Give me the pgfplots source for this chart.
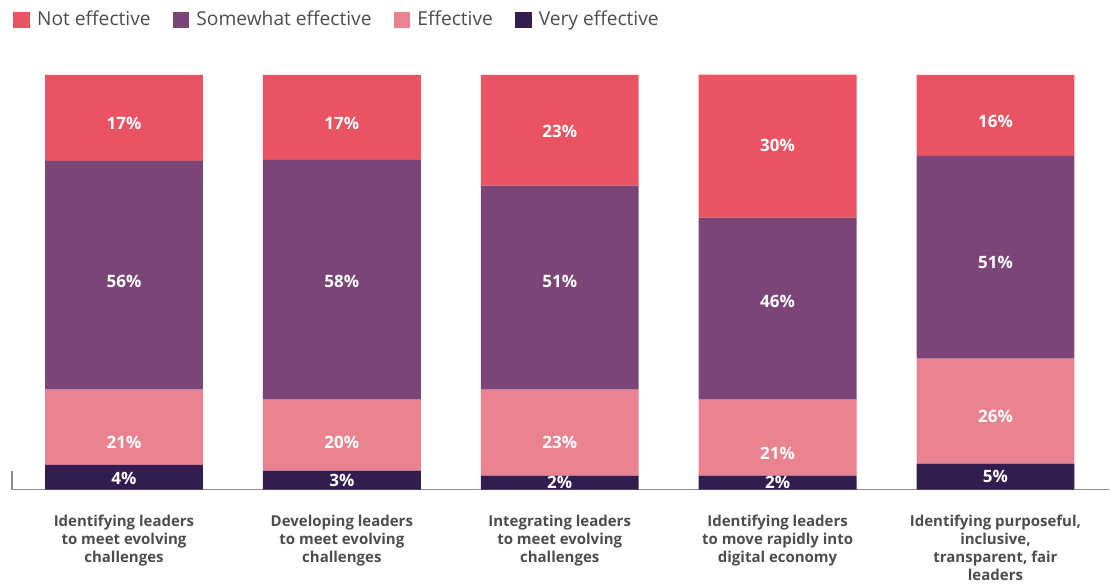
\documentclass[border=0pt]{standalone}
\usepackage{pgfplots}
\usepackage{pgfplotstable}
\pgfplotsset{compat=1.18}
\usepackage{fontspec}
\setmainfont{Open Sans}

\definecolor{cNot}{HTML}{E95362}
\definecolor{cSome}{HTML}{7B4578}
\definecolor{cEff}{HTML}{EA828F}
\definecolor{cVery}{HTML}{331C4F}
\definecolor{txtgrey}{HTML}{4D4D4D}
\definecolor{axgrey}{HTML}{8C8C8C}

% drawn shares of each bar (bottom to top)
\pgfplotstableread{
x y
0 6.0
1 4.6
2 3.4
3 3.4
4 6.3
}\veryeff
\pgfplotstableread{
x y
0 18.1
1 17.1
2 20.7
3 18.3
4 25.3
}\effective
\pgfplotstableread{
x y
0 55.2
1 57.8
2 49.2
3 43.9
4 48.9
}\somewhat
\pgfplotstableread{
x y
0 20.7
1 20.5
2 26.7
3 34.5
4 19.5
}\noteff
% printed labels and where they sit
\pgfplotstableread{
x y lab
0 2.65 4
1 2.17 3
2 1.69 2
3 1.69 2
4 3.13 5
0 11.3 21
1 11.3 20
2 11.3 23
3 8.7 21
4 17.6 26
0 50.1 56
1 50.1 58
2 50.1 51
3 45.3 46
4 54.7 51
0 88.4 17
1 88.4 17
2 86.5 23
3 83.1 30
4 88.7 16
}\labels

\pgfplotsset{common/.style={
    x=109pt, y=2.075pt,
    xmin=-0.514, xmax=4.523,
    ymin=0, ymax=100,
    clip=false}}

\begin{document}
\begin{tikzpicture}
\begin{axis}[
    common,
    ybar stacked,
    bar width=79pt,
    axis line style={draw=none},
    ytick=\empty,
    xtick={0,1,2,3,4},
    major tick length=0pt,
    xticklabels={
        {Identifying leaders\\to meet evolving\\challenges},
        {Developing leaders\\to meet evolving\\challenges},
        {Integrating leaders\\to meet evolving\\challenges},
        {Identifying leaders\\to move rapidly into\\digital economy},
        {Identifying purposeful,\\inclusive,\\transparent, fair\\leaders}},
    xticklabel style={align=center, font=\bfseries\fontsize{7.5}{9}\selectfont,
        text=txtgrey, yshift=-9pt},
    reverse legend,
    legend columns=4,
    legend image code/.code={\fill[#1] (0pt,-4.2pt) rectangle (8.4pt,4.2pt);},
    legend style={at={(0,1)}, anchor=west, yshift=27.5pt, xshift=0.5pt,
        draw=none, inner xsep=0pt, font=\fontsize{9.6}{11}\selectfont,
        text=txtgrey,
        /tikz/every odd column/.append style={column sep=1.5pt},
        /tikz/every even column/.append style={column sep=9pt}},
]
\addplot[fill=cVery, draw=none] table[x=x, y=y] {\veryeff};
\addplot[fill=cEff, draw=none] table[x=x, y=y] {\effective};
\addplot[fill=cSome, draw=none] table[x=x, y=y] {\somewhat};
\addplot[fill=cNot, draw=none] table[x=x, y=y] {\noteff};
\legend{Very effective, Effective, Somewhat effective, Not effective}
\draw[axgrey, line width=0.6pt] (rel axis cs:0,0) -- (rel axis cs:1,0);
\draw[axgrey, line width=0.6pt] (rel axis cs:0,0) -- ++(0pt,9.5pt);
\path ([xshift=-6pt,yshift=-45.5pt]rel axis cs:0,0)
    rectangle ([yshift=37.5pt]rel axis cs:1,1);
\end{axis}
\begin{axis}[
    common,
    hide axis,
    point meta=explicit symbolic,
    every node near coord/.append style={anchor=center, text=white,
        font=\bfseries\fontsize{8.5}{10}\selectfont},
]
\addplot[draw=none, mark=none, nodes near coords={\pgfplotspointmeta\%}]
    table[x=x, y=y, meta=lab] {\labels};
\end{axis}
\end{tikzpicture}
\end{document}
